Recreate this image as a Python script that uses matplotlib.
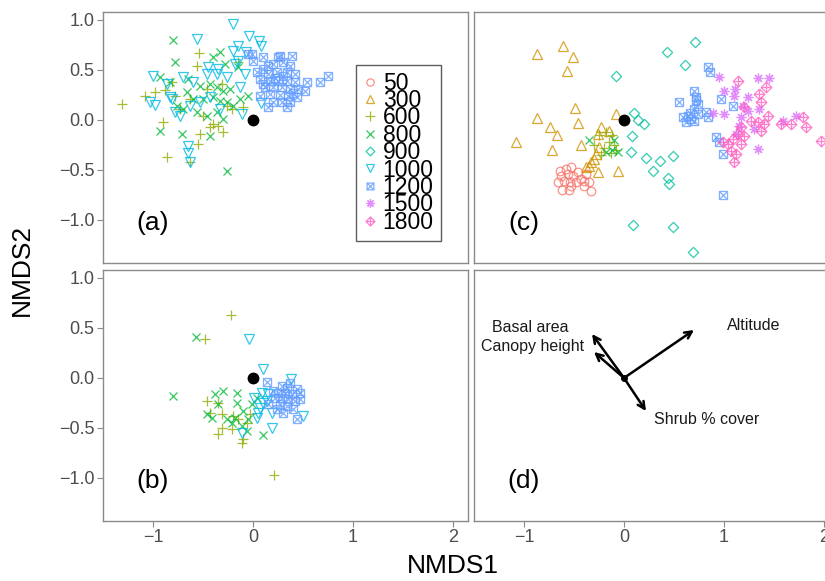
import matplotlib
matplotlib.use("Agg")
import matplotlib.pyplot as plt
import numpy as np
from matplotlib.path import Path
from matplotlib.ticker import FuncFormatter

plt.rcParams['font.family'] = ['Liberation Sans', 'DejaVu Sans']

# altitude classes (legend) and ggplot hue colours
alt_levels = ['50', '300', '600', '800', '900', '1000', '1200', '1500', '1800']
alt_colors = ['#F8766D', '#D39200', '#93AA00', '#00BA38', '#00C19F',
              '#00B9E3', '#619CFF', '#DB72FB', '#FF61C3']

# ---- panel (a) site scores ----
a_600 = [(-1.31, 0.16), (-1.08, 0.24), (-0.98, 0.28), (-0.88, 0.30), (-0.81, 0.38),
         (-0.56, 0.54), (-0.54, 0.67), (-0.78, 0.24), (-0.90, -0.02), (-0.86, -0.37),
         (-0.63, -0.42), (-0.55, -0.24), (-0.53, -0.14), (-0.43, -0.07), (-0.40, -0.04),
         (-0.35, -0.06), (-0.30, -0.12), (-0.15, 0.58), (-0.31, 0.36), (-0.26, 0.14),
         (-0.21, 0.11), (-0.10, 0.13), (-0.50, 0.04), (-0.73, 0.11), (-0.63, 0.21),
         (-0.46, 0.31)]
a_800 = [(-0.80, 0.80), (-0.78, 0.58), (-0.33, 0.68), (-0.40, 0.63), (-0.28, 0.56),
         (-0.15, 0.53), (-0.93, 0.43), (-0.83, 0.38), (-0.65, 0.41), (-0.53, 0.34),
         (-0.43, 0.36), (-0.36, 0.33), (-0.30, 0.29), (-0.23, 0.31), (-0.66, 0.28),
         (-0.60, 0.21), (-0.50, 0.21), (-0.40, 0.23), (-0.33, 0.19), (-0.26, 0.18),
         (-0.20, 0.14), (-0.76, 0.14), (-0.70, 0.11), (-0.56, 0.08), (-0.46, 0.04),
         (-0.36, 0.08), (-0.30, 0.01), (-0.93, -0.11), (-0.71, -0.14), (-0.43, -0.16),
         (-0.26, -0.51), (-0.05, 0.24), (-0.13, 0.21)]
a_1000 = [(-0.20, 0.96), (-0.56, 0.81), (-0.04, 0.84), (0.06, 0.79), (0.08, 0.74),
          (-0.15, 0.74), (-0.20, 0.69), (-0.07, 0.68), (-1.00, 0.44), (-0.86, 0.36),
          (-0.70, 0.43), (-0.60, 0.38), (-0.46, 0.46), (-0.36, 0.46), (-0.26, 0.43),
          (-0.45, 0.53), (-0.35, 0.51), (-0.18, 0.56), (-0.15, 0.59), (-0.08, 0.46),
          (-1.03, 0.18), (-0.98, 0.15), (-0.81, 0.21), (-0.78, 0.08), (-0.73, 0.04),
          (-0.63, 0.14), (-0.53, 0.18), (-0.13, 0.33), (-0.11, 0.06), (0.08, 0.17),
          (-0.65, -0.26), (-0.65, -0.33), (-0.63, -0.42), (-0.83, 0.23), (-0.43, 0.23),
          (-0.33, 0.11)]
a_1200 = [(-0.01, 0.66), (0.10, 0.63), (0.25, 0.63), (0.39, 0.64), (0.20, 0.56),
          (0.30, 0.58), (0.37, 0.54), (0.10, 0.51), (0.15, 0.46), (0.24, 0.48),
          (0.34, 0.48), (0.42, 0.46), (0.07, 0.41), (0.17, 0.39), (0.25, 0.39),
          (0.34, 0.39), (0.42, 0.38), (0.54, 0.38), (0.67, 0.38), (0.75, 0.44),
          (0.12, 0.33), (0.20, 0.33), (0.29, 0.33), (0.37, 0.31), (0.45, 0.31),
          (0.07, 0.24), (0.17, 0.26), (0.27, 0.25), (0.35, 0.24), (0.44, 0.23),
          (0.20, 0.18), (0.29, 0.18), (0.37, 0.18), (0.00, 0.59), (0.04, 0.48),
          (0.15, 0.54), (0.52, 0.29), (0.34, 0.13), (0.15, 0.13), (-0.05, 0.66),
          (0.27, 0.64), (0.22, 0.42), (0.30, 0.44), (0.10, 0.36), (0.40, 0.27)]

# ---- panel (b) site scores ----
b_600 = [(-0.22, 0.63), (-0.48, 0.39), (0.21, -0.97), (-0.46, -0.23), (-0.35, -0.25),
         (-0.43, -0.35), (-0.31, -0.36), (-0.20, -0.38), (-0.35, -0.56), (-0.31, -0.50),
         (-0.21, -0.51), (-0.11, -0.65), (-0.10, -0.61), (-0.06, -0.45), (-0.15, -0.41),
         (-0.03, -0.36)]
b_800 = [(-0.57, 0.41), (-0.80, -0.18), (-0.30, -0.13), (-0.16, -0.15), (-0.38, -0.16),
         (-0.35, -0.26), (-0.16, -0.25), (-0.46, -0.36), (-0.41, -0.40), (-0.26, -0.41),
         (-0.18, -0.40), (-0.10, -0.33), (-0.05, -0.41), (-0.06, -0.53), (0.10, -0.57),
         (0.04, -0.20), (-0.01, -0.26), (-0.11, -0.48), (-0.21, -0.45)]
b_1000 = [(-0.04, 0.39), (0.10, 0.09), (0.38, -0.01), (0.01, -0.20), (0.09, -0.15),
          (0.10, -0.25), (0.05, -0.35), (0.19, -0.35), (0.19, -0.50), (0.50, -0.38),
          (0.14, -0.23), (0.07, -0.30), (0.04, -0.40), (0.15, -0.16), (-0.11, -0.55)]
b_1200 = [(0.14, -0.04), (0.29, -0.08), (0.34, -0.10), (0.44, -0.11), (0.25, -0.15),
          (0.32, -0.15), (0.39, -0.16), (0.47, -0.21), (0.22, -0.20), (0.29, -0.20),
          (0.35, -0.21), (0.42, -0.23), (0.27, -0.26), (0.34, -0.28), (0.40, -0.31),
          (0.30, -0.35), (0.44, -0.41), (0.20, -0.13), (0.15, -0.26), (0.47, -0.15),
          (0.37, -0.05), (0.24, -0.31)]

# ---- panel (c) site scores ----
c_50 = [(-0.64, -0.51), (-0.58, -0.49), (-0.53, -0.47), (-0.46, -0.52), (-0.63, -0.56),
        (-0.56, -0.54), (-0.51, -0.56), (-0.60, -0.61), (-0.54, -0.62), (-0.48, -0.62),
        (-0.62, -0.70), (-0.55, -0.70), (-0.53, -0.66), (-0.40, -0.61), (-0.35, -0.62),
        (-0.40, -0.66), (-0.33, -0.71), (-0.38, -0.54), (-0.43, -0.59), (-0.66, -0.62)]
c_300 = [(-0.87, 0.66), (-0.61, 0.74), (-0.51, 0.63), (-0.57, 0.49), (-0.87, 0.02),
         (-0.49, 0.12), (-0.46, -0.03), (-0.74, -0.07), (-0.67, -0.15), (-1.08, -0.22),
         (-0.72, -0.30), (-0.43, -0.25), (-0.23, -0.07), (-0.26, -0.14), (-0.08, 0.06),
         (-0.15, -0.11), (-0.25, -0.27), (-0.28, -0.34), (-0.33, -0.42), (-0.38, -0.47),
         (-0.26, -0.52), (-0.06, -0.51), (-0.30, -0.39), (-0.35, -0.46)]
c_600 = [(-0.25, -0.15), (-0.18, -0.12), (-0.12, -0.15), (-0.15, -0.22), (-0.10, -0.25),
         (-0.20, -0.28), (-0.08, -0.30), (-0.13, -0.33), (-0.30, -0.25), (-0.23, -0.35)]
c_800 = [(-0.12, -0.30), (-0.18, -0.32), (-0.06, -0.32), (-0.10, -0.20), (-0.35, -0.20)]
c_900 = [(0.71, 0.78), (0.43, 0.68), (0.61, 0.55), (-0.08, 0.44), (0.10, 0.07),
         (0.14, 0.00), (0.20, -0.04), (0.08, -0.16), (0.07, -0.32), (0.22, -0.38),
         (0.36, -0.41), (0.49, -0.36), (0.29, -0.51), (0.44, -0.58), (0.45, -0.64),
         (0.09, -1.05), (0.49, -1.07), (0.69, -1.32)]
c_1200 = [(0.84, 0.53), (0.86, 0.48), (0.70, 0.29), (0.55, 0.18), (0.72, 0.23),
          (0.74, 0.16), (0.70, 0.11), (0.59, 0.03), (0.64, 0.04), (0.67, 0.01),
          (0.62, -0.02), (0.70, -0.01), (0.74, 0.06), (0.82, 0.08), (0.84, 0.03),
          (0.97, 0.21), (1.09, 0.14), (0.92, -0.17), (0.99, -0.34), (0.99, -0.75),
          (0.95, -0.22), (0.66, 0.07), (0.72, 0.20)]
c_1500 = [(0.95, 0.43), (1.34, 0.42), (1.45, 0.42), (1.00, 0.29), (1.11, 0.31),
          (1.10, 0.24), (1.24, 0.23), (1.19, 0.14), (0.89, 0.07), (1.00, 0.06),
          (1.17, 0.03), (1.35, 0.11), (1.15, -0.06), (1.30, -0.09), (1.59, -0.01),
          (1.72, 0.04), (1.34, -0.29), (1.24, 0.09), (1.12, -0.14)]
c_1800 = [(1.14, 0.39), (1.42, 0.33), (1.35, 0.26), (1.37, 0.18), (1.20, 0.13),
          (1.44, 0.04), (1.34, -0.02), (1.40, -0.04), (1.37, -0.11), (1.57, -0.04),
          (1.67, -0.04), (1.79, 0.03), (1.82, -0.07), (1.97, -0.21), (1.17, -0.07),
          (1.14, -0.14), (1.09, -0.19), (0.99, -0.22), (1.04, -0.24), (1.17, -0.24),
          (1.07, -0.31), (1.12, -0.34), (1.10, -0.42), (1.20, -0.16), (1.27, -0.01)]

# ---- panel (d) environmental vectors ----
env_names = ['Altitude', 'Basal area', 'Canopy height', 'Shrub % cover']
env_x = [0.70, -0.32, -0.30, 0.22]
env_y = [0.48, 0.44, 0.26, -0.33]
env_lab_x = [1.30, -0.94, -0.91, 0.83]
env_lab_y = [0.53, 0.50, 0.32, -0.42]

# ggplot-like marker shapes
M, L, C = Path.MOVETO, Path.LINETO, Path.CLOSEPOLY
square_x = Path([(-1, -1), (1, -1), (1, 1), (-1, 1), (-1, -1), (-1, -1), (1, 1), (-1, 1), (1, -1)],
                [M, L, L, L, C, M, L, M, L])
diamond = Path([(0, -1), (1, 0), (0, 1), (-1, 0), (0, -1)], [M, L, L, L, C])
diamond_plus = Path([(0, -1), (1, 0), (0, 1), (-1, 0), (0, -1), (0, -1), (0, 1), (-1, 0), (1, 0)],
                    [M, L, L, L, C, M, L, M, L])
markers = ['o', '^', '+', 'x', diamond, 'v', square_x, (8, 2, 0), diamond_plus]
msizes = [6.2, 7.0, 7.8, 6.2, 7.4, 7.0, 5.8, 7.0, 7.6]

panels = {
    'a': {'600': a_600, '800': a_800, '1000': a_1000, '1200': a_1200},
    'b': {'600': b_600, '800': b_800, '1000': b_1000, '1200': b_1200},
    'c': {'50': c_50, '300': c_300, '600': c_600, '800': c_800, '900': c_900,
          '1200': c_1200, '1500': c_1500, '1800': c_1800},
}

fig = plt.figure(figsize=(8.25, 5.81), dpi=100)
W, H = 365 / 825, 251 / 581
pos = {'a': [103 / 825, 1 - 263 / 581, W, H],
       'c': [474 / 825, 1 - 263 / 581, W, H],
       'b': [103 / 825, 1 - 521 / 581, W, H],
       'd': [474 / 825, 1 - 521 / 581, W, H]}
yfmt = FuncFormatter(lambda v, p: f'{v:.1f}'.replace('-', '\u2212'))
axes = {}
for k, p in pos.items():
    ax = fig.add_axes(p)
    axes[k] = ax
    ax.set_xlim(-1.5, 2.15)
    ax.set_ylim(-1.43, 1.08)
    ax.set_xticks([-1, 0, 1, 2])
    ax.set_yticks([-1.0, -0.5, 0.0, 0.5, 1.0])
    ax.yaxis.set_major_formatter(yfmt)
    for s in ax.spines.values():
        s.set_color('#8a8a8a')
        s.set_linewidth(1.0)
    ax.tick_params(direction='out', length=4, width=0.8, color='#8a8a8a',
                   labelsize=13, labelcolor='#4d4d4d', pad=2)
    show_x = k in ('b', 'd')
    show_y = k in ('a', 'b')
    ax.tick_params(axis='x', bottom=show_x, labelbottom=show_x)
    ax.tick_params(axis='y', left=show_y, labelleft=show_y)
    ax.text(-1.0, -1.03, f'({k})', fontsize=19, ha='center', va='center')

for k, groups in panels.items():
    ax = axes[k]
    for i, lev in enumerate(alt_levels):
        if lev not in groups:
            continue
        pts = np.array(groups[lev])
        ax.plot(pts[:, 0], pts[:, 1], linestyle='none', marker=markers[i],
                markersize=msizes[i], markerfacecolor='none',
                markeredgecolor=alt_colors[i], markeredgewidth=0.9, alpha=0.8)
    ax.plot([0], [0], 'o', color='black', markersize=7.5)

# legend with all nine altitude classes
leg_handles = [plt.Line2D([], [], linestyle='none', marker=markers[i], markersize=msizes[i] * 0.85,
                          markerfacecolor='none', markeredgecolor=alt_colors[i],
                          markeredgewidth=0.9, alpha=0.8)
               for i in range(len(alt_levels))]
leg = axes['a'].legend(leg_handles, alt_levels, loc='upper left',
                       bbox_to_anchor=(0.694, 0.79), fontsize=16.5, frameon=True,
                       fancybox=False, labelspacing=-0.245, handlelength=0.6,
                       handletextpad=0.25, borderpad=0.3, borderaxespad=0)
leg.get_frame().set_edgecolor('#333333')
leg.get_frame().set_linewidth(1.0)

# panel (d): vectors
axd = axes['d']
for name, vx, vy, lx, ly in zip(env_names, env_x, env_y, env_lab_x, env_lab_y):
    axd.annotate('', xy=(vx, vy), xytext=(0, 0),
                 arrowprops=dict(arrowstyle='->,head_length=0.5,head_width=0.25',
                                 color='black', lw=1.8, shrinkA=0, shrinkB=0))
    axd.text(lx, ly, name, fontsize=11.5, ha='center', va='center', color='#1a1a1a')
axd.plot([0], [0], 'o', color='black', markersize=4)

fig.text(22 / 825, 1 - 270 / 581, 'NMDS2', rotation=90, fontsize=19,
         ha='center', va='center')
fig.text(453 / 825, 1 - 566 / 581, 'NMDS1', fontsize=19, ha='center', va='center')

fig.savefig('out.png', dpi=100)
